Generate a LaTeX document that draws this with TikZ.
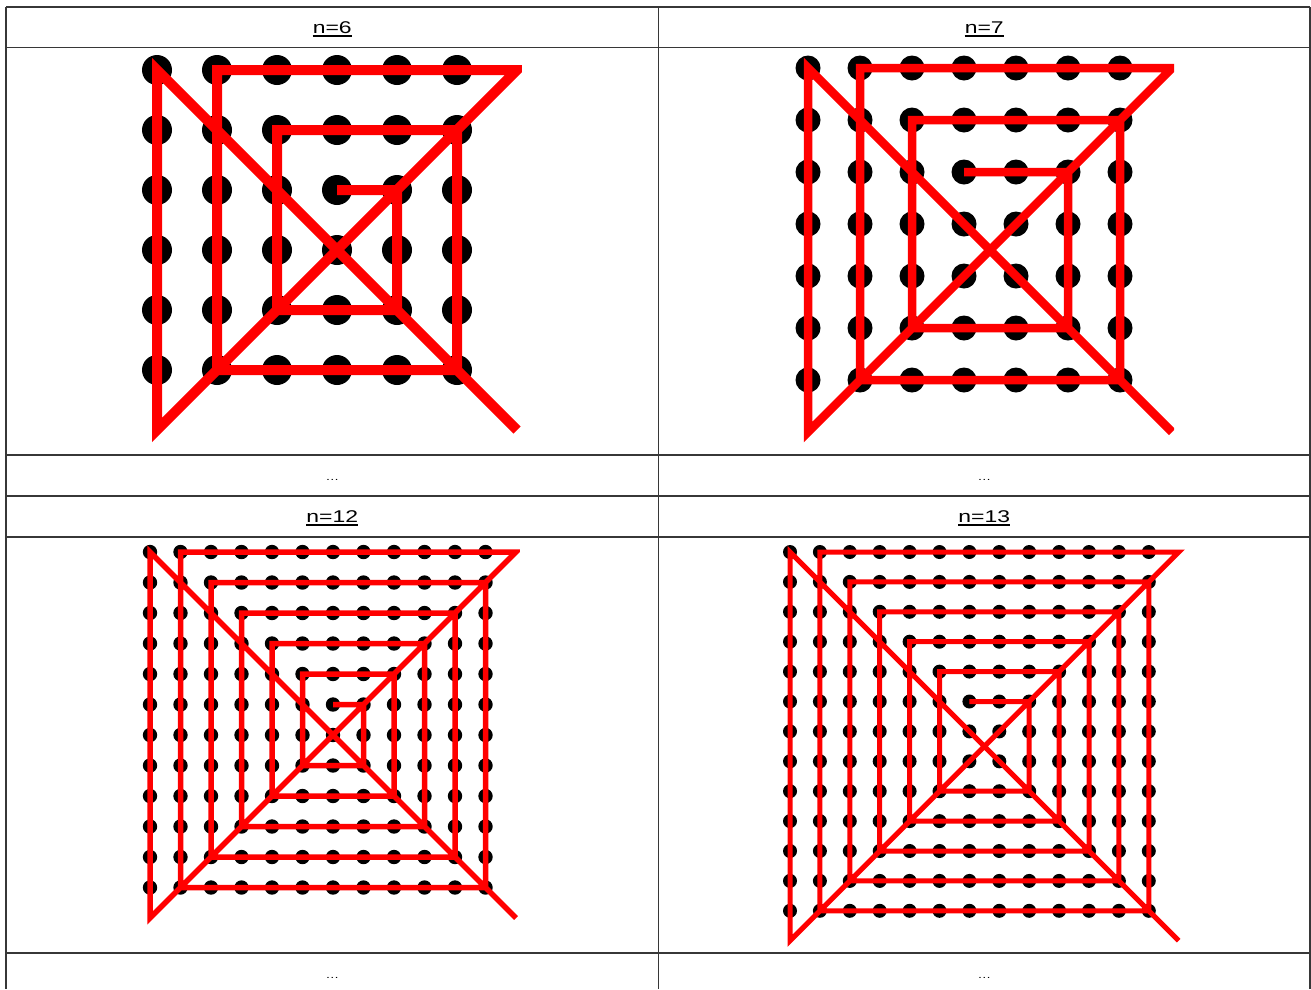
\documentclass[tikz,border=0pt]{standalone}
\usepackage{fontspec}
\setmainfont{Liberation Sans}
\newfontfamily\headfont{Liberation Sans}[FakeStretch=1.35]
\definecolor{tablegray}{RGB}{55,55,55}
\definecolor{pathred}{RGB}{255,0,0}
\usepackage{tikz}

% one dot picture: x0, y0, spacing, n, dot radius, line width, clip right (in steps)
\newcommand{\dotspiral}[7]{%
  \begin{scope}[shift={(#1,#2)}, x=#3pt, y=-#3pt]
    \pgfmathtruncatemacro\sm{#4/2}
    \pgfmathtruncatemacro\se{#4-2*\sm}
    \pgfmathtruncatemacro\slast{#4-1}
    \pgfmathtruncatemacro\sinner{\sm-1}
    \clip (-1,-1) rectangle ({#7},{#4+1});
    \foreach \i in {0,...,\slast}
      \foreach \j in {0,...,\slast}
        \fill[griddot] (\i,\j) circle[radius=#5pt];
    \draw[spiral, line width=#6pt] ({\sm},{\sm-1})
      \foreach \k in {1,...,\sinner} {
        -- ({\sm+\k+\se},{\sm-\k}) -- ({\sm+\k+\se},{\sm+\k+\se})
        -- ({\sm-\k},{\sm+\k+\se}) -- ({\sm-\k},{\sm-\k-1})
      }
      -- (#4,0) -- (0,#4) -- (0,0) -- (#4,#4);
  \end{scope}}

\begin{document}
\begin{tikzpicture}[x=1pt, y=-1pt,
    rule/.style={draw=tablegray, line width=1.5pt},
    head/.style={anchor=base, inner sep=0pt, font=\headfont\fontsize{17}{20}\selectfont},
    more/.style={anchor=base, inner sep=0pt, font=\headfont\fontsize{10}{12}\selectfont},
    underl/.style={draw=black, line width=1.3pt},
    griddot/.style={fill=black},
    spiral/.style={draw=pathred}]
  \useasboundingbox[fill=white] (0,0) rectangle (1311,989);

  % table rules
  \foreach \y in {7,47.5,455,496,537,953}
    \draw[rule] (6,\y) -- (1310,\y);
  \foreach \x in {6,658.5,1310}
    \draw[rule] (\x,7) -- (\x,989);

  % headings
  \node[head] (h6) at (332.25,33) {n=6};
  \node[head] (h7) at (984.25,33) {n=7};
  \node[head] (h12) at (332.25,522) {n=12};
  \node[head] (h13) at (984.25,522) {n=13};
  \foreach \h in {h6,h7,h12,h13}
    \draw[underl] ([yshift=-3pt]\h.base west) -- ([yshift=-3pt]\h.base east);

  \node[more] (m6) at (332.25,480.5) {…};
  \node[more] (m7) at (984.25,480.5) {…};
  \node[more] (m12) at (332.25,978) {…};
  \node[more] (m13) at (984.25,978) {…};

  % dot pictures
  \dotspiral{157}{70}{60}{6}{15}{10}{6.08}
  \dotspiral{808}{68}{52}{7}{12.5}{8.5}{7.04}
  \dotspiral{150}{552}{30.5}{12}{7.2}{5.5}{12.13}
  \dotspiral{790}{552}{29.9}{13}{7}{5}{14}
\end{tikzpicture}
\end{document}
